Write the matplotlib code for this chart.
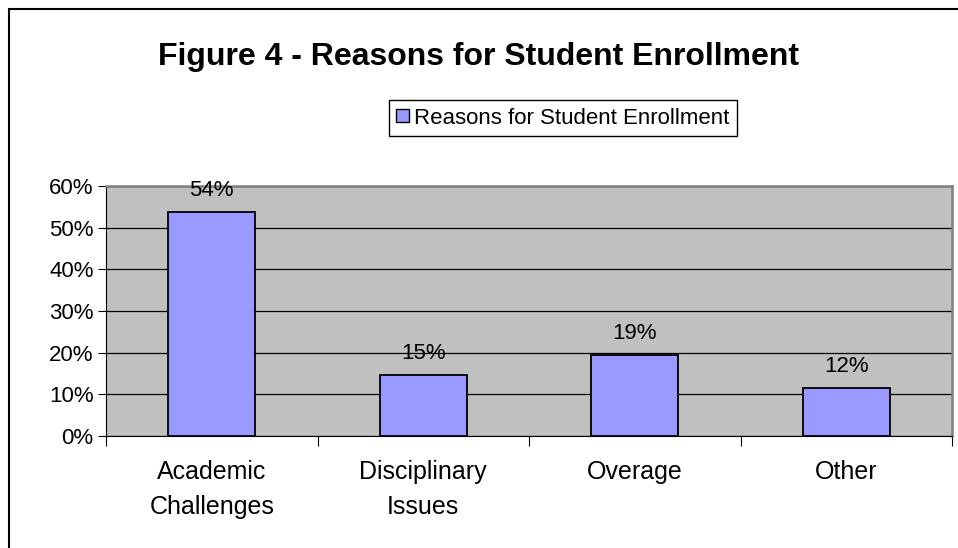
import matplotlib
matplotlib.use('Agg')
import matplotlib.pyplot as plt
from matplotlib.patches import Rectangle, Patch
from matplotlib.ticker import PercentFormatter, FixedLocator

plt.rcParams['font.family'] = ['Liberation Sans', 'DejaVu Sans']

# datos
categorias = ['Academic\nChallenges', 'Disciplinary\nIssues', 'Overage', 'Other']
valores = [0.537, 0.146, 0.194, 0.116]
etiquetas = ['54%', '15%', '19%', '12%']
serie = 'Reasons for Student Enrollment'
titulo = 'Figure 4 - Reasons for Student Enrollment'

fig = plt.figure(figsize=(9.58, 5.48), dpi=100)
ax = fig.add_axes([106/958, 1-436/548, (952-106)/958, (436-186)/548])

# marco exterior del grafico (sale por la derecha y por abajo)
fig.patches.append(Rectangle((9/958, -0.05), 1.0, 1-8.5/548+0.05,
                             transform=fig.transFigure, fill=False,
                             edgecolor='black', linewidth=1.5))

x = range(len(categorias))
barras = ax.bar(x, valores, width=0.41, color='#9999FF', edgecolor='black',
                linewidth=1.3, zorder=3)

for b, lab in zip(barras, etiquetas):
    ax.annotate(lab, (b.get_x() + b.get_width()/2, b.get_height()),
                xytext=(0, 8), textcoords='offset points',
                ha='center', va='bottom', fontsize=16)

ax.set_facecolor('#C0C0C0')
ax.set_xlim(-0.5, len(categorias) - 0.5)
ax.set_ylim(0, 0.6)
ax.set_yticks([0, 0.1, 0.2, 0.3, 0.4, 0.5, 0.6])
ax.yaxis.set_major_formatter(PercentFormatter(1.0, decimals=0))
ax.grid(axis='y', color='black', linewidth=0.9, zorder=0)
ax.set_axisbelow(True)

ax.set_xticks(list(x))
ax.set_xticklabels(categorias, fontsize=18, linespacing=1.6)
ax.tick_params(axis='x', which='major', length=0, pad=17)
ax.xaxis.set_minor_locator(FixedLocator([i - 0.5 for i in range(len(categorias) + 1)]))
ax.tick_params(axis='x', which='minor', length=7, width=0.8, direction='out')
ax.tick_params(axis='y', length=6, width=0.8, labelsize=16, pad=3)

for s in ['left', 'bottom']:
    ax.spines[s].set_color('black')
for s in ['top', 'right']:
    ax.spines[s].set_color('#808080')
    ax.spines[s].set_linewidth(1.8)

fig.text(479/958, 1-57/548, titulo, ha='center', va='center',
         fontsize=23, fontweight='bold')

ax.legend(handles=[Patch(facecolor='#9999FF', edgecolor='black', label=serie)],
          loc='center', bbox_to_anchor=(563/958, 1-118/548),
          bbox_transform=fig.transFigure, fontsize=16, frameon=True,
          fancybox=False, edgecolor='black', framealpha=1,
          handlelength=0.55, handleheight=0.55, handletextpad=0.25,
          borderpad=0.35)

fig.savefig('out.png', dpi=100)
